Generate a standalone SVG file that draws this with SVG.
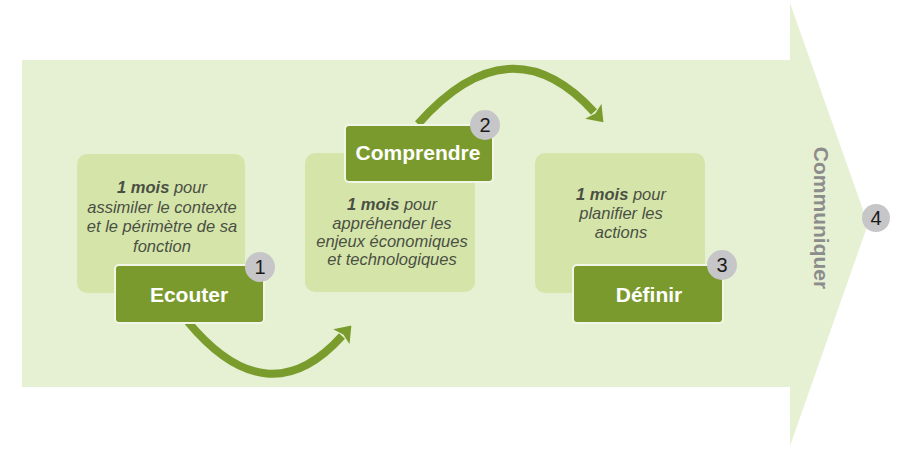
<svg xmlns="http://www.w3.org/2000/svg" width="900" height="449" viewBox="0 0 900 449">
<style>
.light{fill:#d5e5a9}
.dark{fill:#7a9a2e;stroke:#f2f6e6;stroke-width:2}
.desc{font-family:"Liberation Sans",Arial,sans-serif;font-size:16.5px;font-style:italic;fill:#4a4f44;text-anchor:middle}
.desc tspan.b{font-weight:bold}
.title{font-family:"Liberation Sans",Arial,sans-serif;font-size:21px;font-weight:bold;fill:#ffffff;text-anchor:middle}
.badge{fill:#c6c6c8}
.num{font-family:"Liberation Sans",Arial,sans-serif;font-size:20px;fill:#1a1a1a;text-anchor:middle}
.curve{fill:none;stroke:#7a9c2c;stroke-width:8}
</style>
<defs>
<marker id="head" markerUnits="userSpaceOnUse" viewBox="0 -11 15 22" markerWidth="15" markerHeight="22" refX="1" refY="0" orient="auto">
<path d="M0,-11 L15,0 L0,11 L3,0 z" fill="#7a9c2c"/>
</marker>
</defs>
<rect width="900" height="449" fill="#ffffff"/>
<g id="big-arrow">
<polygon points="22,60 790,60 790,3 868,224 790,446 790,387 22,387" fill="#e6f0d3"/>
</g>
<g id="connectors">
<path class="curve" d="M188,322 Q268,418 342,336" marker-end="url(#head)"/>
<path class="curve" d="M418,124 Q510,20 594,112" marker-end="url(#head)"/>
</g>
<g id="node-ecouter">
<rect class="light" x="77" y="154" width="168" height="139" rx="10"/>
<text class="desc"><tspan x="162" y="193"><tspan class="b">1 mois</tspan> pour</tspan><tspan x="162" y="213">assimiler le contexte</tspan><tspan x="162" y="232">et le périmètre de sa</tspan><tspan x="162" y="252">fonction</tspan></text>
<rect class="dark" x="115" y="265" width="149" height="58" rx="4"/>
<text class="title" x="189" y="302">Ecouter</text>
<circle class="badge" cx="260" cy="267" r="15"/>
<text class="num" x="260" y="274">1</text>
</g>
<g id="node-comprendre">
<rect class="light" x="305" y="153" width="170" height="139" rx="10"/>
<text class="desc"><tspan x="392" y="210"><tspan class="b">1 mois</tspan> pour</tspan><tspan x="392" y="229">appréhender les</tspan><tspan x="392" y="247">enjeux économiques</tspan><tspan x="392" y="265">et technologiques</tspan></text>
<rect class="dark" x="345" y="125" width="148" height="57" rx="4"/>
<text class="title" x="418" y="160">Comprendre</text>
<circle class="badge" cx="485" cy="125" r="15"/>
<text class="num" x="485" y="132">2</text>
</g>
<g id="node-definir">
<rect class="light" x="535" y="153" width="170" height="140" rx="10"/>
<text class="desc"><tspan x="621" y="200"><tspan class="b">1 mois</tspan> pour</tspan><tspan x="621" y="219">planifier les</tspan><tspan x="621" y="238">actions</tspan></text>
<rect class="dark" x="573" y="265" width="150" height="58" rx="4"/>
<text class="title" x="649" y="302">Définir</text>
<circle class="badge" cx="722" cy="265" r="15"/>
<text class="num" x="722" y="272">3</text>
</g>
<g id="node-communiquer">
<text transform="translate(821,218) rotate(90)" x="0" y="7.5" font-family="Liberation Sans, Arial, sans-serif" font-size="21" font-weight="bold" fill="#8c8c8c" text-anchor="middle">Communiquer</text>
<circle class="badge" cx="876" cy="218" r="14"/>
<text class="num" x="876" y="225">4</text>
</g>
</svg>
